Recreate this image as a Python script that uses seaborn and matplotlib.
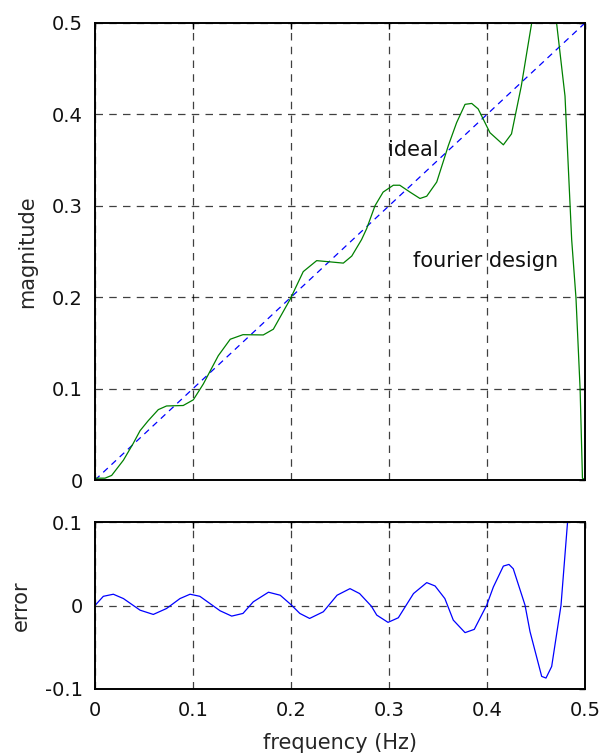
import numpy as np
import pandas as pd
import matplotlib
matplotlib.use("Agg")
import matplotlib.pyplot as plt
import seaborn as sns

# ---------------- data ----------------
ideal_freq = [0.0, 0.5]
ideal_mag = [0.0, 0.5]

design_freq = [0.0, 0.0102, 0.017, 0.029, 0.039, 0.046, 0.0544, 0.0646, 0.073, 0.09,
               0.1003, 0.1105, 0.1258, 0.138, 0.151, 0.1717, 0.182, 0.199, 0.2125, 0.2262,
               0.2364, 0.2534, 0.262, 0.272, 0.2772, 0.2857, 0.294, 0.3044, 0.311, 0.3214,
               0.3316, 0.3385, 0.3487, 0.3606, 0.369, 0.3776, 0.3844, 0.391, 0.403, 0.4167,
               0.425, 0.435, 0.4405, 0.4456, 0.452, 0.46, 0.466, 0.471, 0.4796, 0.4864,
               0.4908, 0.495, 0.4974, 0.5]
design_mag = [0.002, 0.002, 0.005, 0.0217, 0.04, 0.054, 0.065, 0.077, 0.081, 0.0815,
              0.0877, 0.105, 0.136, 0.154, 0.159, 0.1587, 0.165, 0.1975, 0.228, 0.24,
              0.239, 0.2373, 0.245, 0.263, 0.275, 0.30, 0.315, 0.3225, 0.3225, 0.315,
              0.308, 0.3105, 0.326, 0.366, 0.391, 0.411, 0.412, 0.406, 0.380, 0.3667,
              0.3787, 0.431, 0.467, 0.50, 0.535, 0.547, 0.539, 0.50, 0.42, 0.263,
              0.199, 0.0997, 0.002, 0.0]

error_freq = [0.0, 0.0085, 0.0187, 0.029, 0.046, 0.0595, 0.073, 0.0867, 0.097, 0.107,
              0.1276, 0.1395, 0.151, 0.1615, 0.177, 0.189, 0.2, 0.209, 0.219, 0.233,
              0.247, 0.2602, 0.27, 0.282, 0.2875, 0.299, 0.3095, 0.325, 0.3385, 0.347,
              0.357, 0.3656, 0.3776, 0.387, 0.3997, 0.4065, 0.4167, 0.4224, 0.4268, 0.4388,
              0.4439, 0.4558, 0.4602, 0.466, 0.4755, 0.4823, 0.487]
error_val = [0.0, 0.011, 0.0135, 0.0083, -0.0056, -0.0107, -0.0036, 0.0083, 0.0135, 0.011,
             -0.0063, -0.0127, -0.0095, 0.0044, 0.0159, 0.0123, 0.001, -0.0095, -0.0155, -0.0075,
             0.0123, 0.0202, 0.0143, -0.0008, -0.0115, -0.0202, -0.0147, 0.0143, 0.0274, 0.0234,
             0.0083, -0.0175, -0.0325, -0.0286, 0.0004, 0.0222, 0.0472, 0.0492, 0.044, 0.0004,
             -0.0313, -0.0849, -0.0869, -0.073, 0.0, 0.1015, 0.18]

x_ticks = [0.0, 0.1, 0.2, 0.3, 0.4, 0.5]
x_tick_labels = ["0", "0.1", "0.2", "0.3", "0.4", "0.5"]
top_y_ticks = [0.0, 0.1, 0.2, 0.3, 0.4, 0.5]
top_y_tick_labels = ["0", "0.1", "0.2", "0.3", "0.4", "0.5"]
err_y_ticks = [-0.1, 0.0, 0.1]
err_y_tick_labels = ["-0.1", "0", "0.1"]

# ---------------- style ----------------
sns.set_theme(style="white")
plt.rcParams['font.family'] = ['DejaVu Sans']
plt.rcParams['font.size'] = 14

TICK_FS = 14
LABEL_FS = 15

fig = plt.figure(figsize=(6.1, 7.54), dpi=100)
W, H = 610, 754
ax1 = fig.add_axes([95 / W, 1 - 480 / H, 490 / W, 457 / H])
ax2 = fig.add_axes([95 / W, 1 - 689 / H, 490 / W, 167 / H])

grid_kw = dict(color="black", linestyle=(0, (6, 5)), linewidth=0.9, alpha=0.75)

def style_axes(ax):
    for s in ax.spines.values():
        s.set_color("black")
        s.set_linewidth(1.4)
    ax.tick_params(direction="in", top=True, right=True, length=4, width=1,
                   color="black", labelsize=TICK_FS, labelcolor="#111111", pad=9)
    ax.grid(True, **grid_kw)
    ax.set_axisbelow(True)

# top panel
sns.lineplot(x=ideal_freq, y=ideal_mag, ax=ax1, color="#0000ff", linewidth=0.9,
             linestyle=(0, (5, 4)), estimator=None, sort=False)
sns.lineplot(x=design_freq, y=design_mag, ax=ax1, color="#008000", linewidth=0.9,
             estimator=None, sort=False)
ax1.set_xlim(0, 0.5)
ax1.set_ylim(0, 0.5)
ax1.set_xticks(x_ticks)
ax1.set_xticklabels([])
ax1.set_yticks(top_y_ticks)
ax1.set_yticklabels(top_y_tick_labels)
ax1.set_ylabel("magnitude", fontsize=LABEL_FS, labelpad=10)
style_axes(ax1)
ax1.text(0.299, 0.361, "ideal", fontsize=LABEL_FS, va="center", ha="left", color="#111111")
ax1.text(0.3245, 0.240, "fourier design", fontsize=LABEL_FS, va="center", ha="left",
         color="#111111")

# bottom panel
sns.lineplot(x=error_freq, y=error_val, ax=ax2, color="#0000ff", linewidth=0.9,
             estimator=None, sort=False)
ax2.set_xlim(0, 0.5)
ax2.set_ylim(-0.1, 0.1)
ax2.set_xticks(x_ticks)
ax2.set_xticklabels(x_tick_labels)
ax2.set_yticks(err_y_ticks)
ax2.set_yticklabels(err_y_tick_labels)
ax2.set_ylabel("error", fontsize=LABEL_FS, labelpad=10)
ax2.set_xlabel("frequency (Hz)", fontsize=LABEL_FS, labelpad=9)
style_axes(ax2)

fig.savefig("out.png", dpi=100)
